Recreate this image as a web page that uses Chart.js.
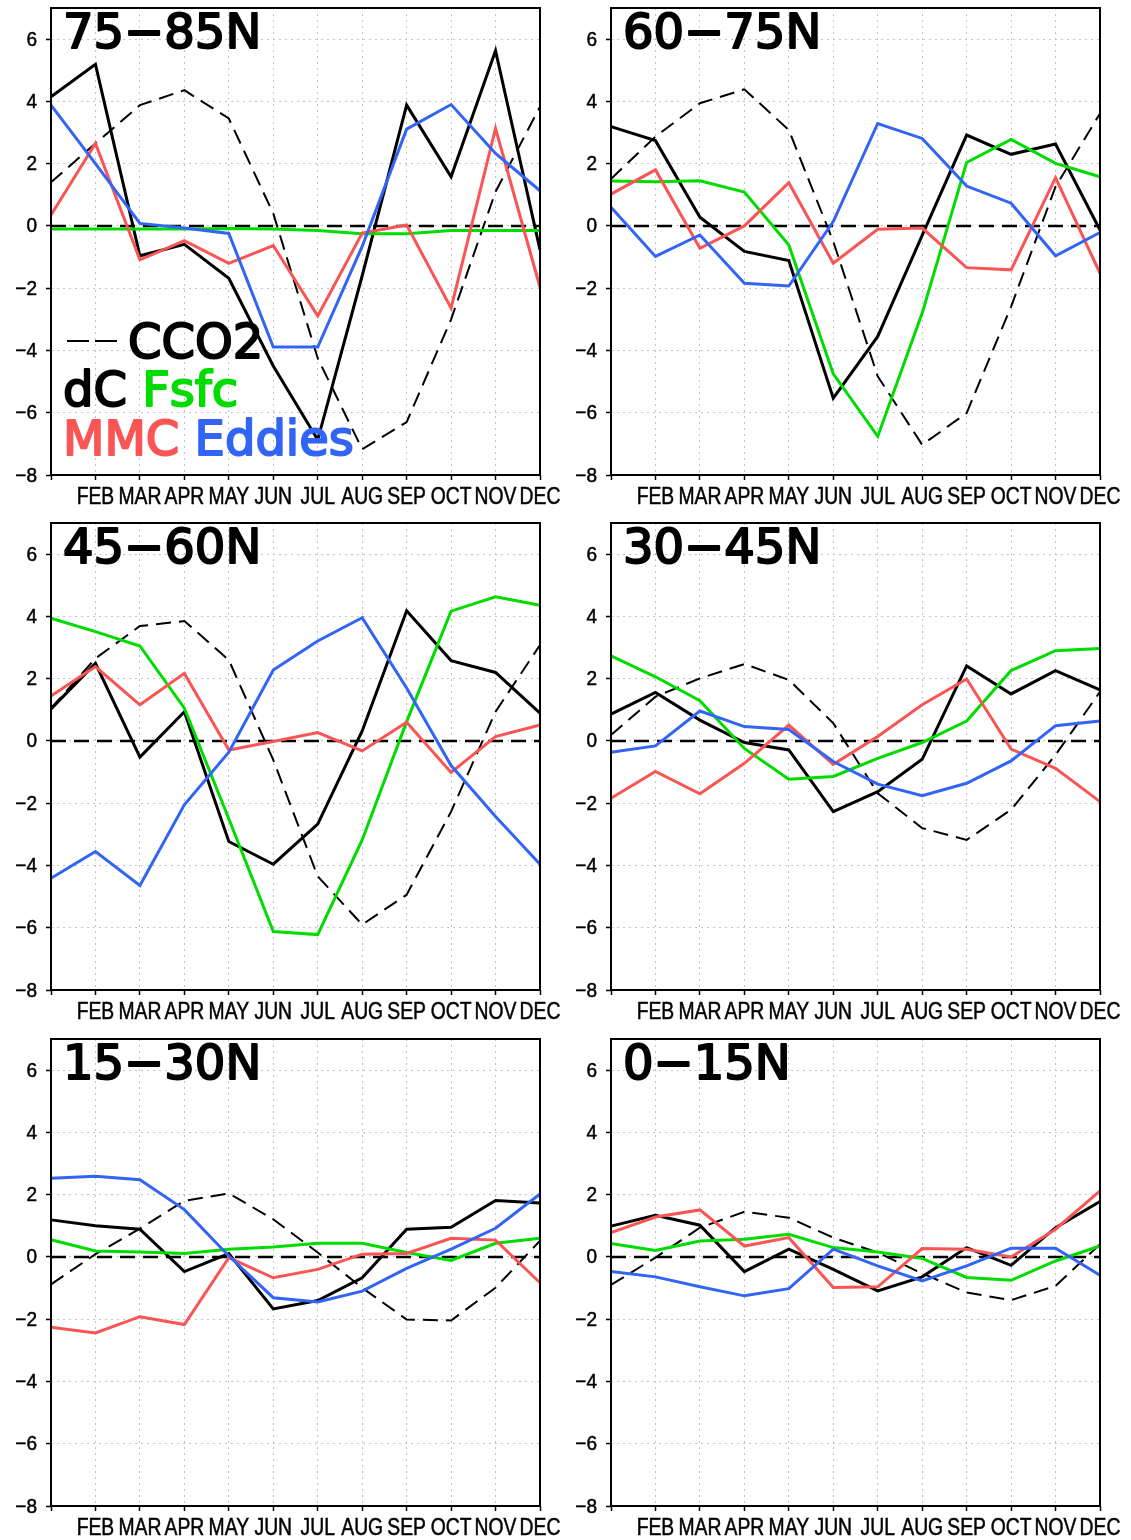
<!DOCTYPE html>
<html lang="en">
<head>
  <meta charset="UTF-8">
  <title>Seasonal CO2 budget by latitude band</title>
  <script src="https://cdn.jsdelivr.net/npm/chart.js"></script>
  <style>
    body { margin: 0; background: #fff; }
    .page { position: relative; width: 1131px; height: 1540px; }
    .page canvas { position: absolute; }
  </style>
</head>
<body>
<div class="page" id="page"></div>

<script>
// months on the x axis (JAN label is not printed)
const months = ['JAN','FEB','MAR','APR','MAY','JUN','JUL','AUG','SEP','OCT','NOV','DEC'];
const yTicks = [-8, -6, -4, -2, 0, 2, 4, 6];

// panel order: left-right, top-bottom
const bands = ['75\u221285N', '60\u221275N', '45\u221260N', '30\u221245N', '15\u221230N', '0\u221215N'];

// CCO2 (dashed black)
const cco2 = [
  [1.40, 2.65, 3.88, 4.36, 3.45, 0.40, -4.25, -7.17, -6.30, -3.00, 1.10, 3.83],
  [1.51, 2.87, 3.94, 4.39, 3.08, -0.50, -4.83, -7.03, -6.01, -2.59, 1.26, 3.61],
  [1.05, 2.65, 3.69, 3.85, 2.60, -0.61, -4.35, -5.90, -4.94, -2.27, 0.94, 3.08],
  [0.19, 1.42, 2.01, 2.47, 1.96, 0.57, -1.68, -2.80, -3.18, -2.21, -0.45, 1.58],
  [-0.88, 0.09, 0.91, 1.80, 2.04, 1.21, 0.14, -0.99, -2.01, -2.04, -0.99, 0.52],
  [-0.90, -0.02, 0.94, 1.45, 1.26, 0.62, 0.14, -0.53, -1.14, -1.39, -0.93, 0.41]
];
// dC (solid black)
const dC = [
  [4.15, 5.19, -0.96, -0.59, -1.68, -4.50, -6.87, -1.60, 3.88, 1.58, 5.63, -0.77],
  [3.19, 2.74, 0.28, -0.82, -1.11, -5.53, -3.55, -0.30, 2.92, 2.30, 2.63, -0.13],
  [1.03, 2.49, -0.52, 0.94, -3.23, -3.96, -2.67, 0.32, 4.18, 2.58, 2.20, 0.89],
  [0.86, 1.56, 0.67, -0.05, -0.29, -2.27, -1.63, -0.59, 2.41, 1.51, 2.26, 1.64],
  [1.19, 1.00, 0.89, -0.47, 0.11, -1.67, -1.40, -0.67, 0.89, 0.95, 1.81, 1.73],
  [0.99, 1.34, 1.02, -0.47, 0.25, -0.40, -1.09, -0.64, 0.30, -0.27, 0.94, 1.78]
];
// Fsfc (green)
const fsfc = [
  [-0.10, -0.10, -0.10, -0.10, -0.08, -0.10, -0.15, -0.25, -0.25, -0.15, -0.15, -0.15],
  [1.44, 1.42, 1.45, 1.09, -0.61, -4.75, -6.76, -2.80, 2.04, 2.78, 2.01, 1.58],
  [3.94, 3.51, 3.05, 1.05, -2.50, -6.12, -6.22, -3.18, 0.62, 4.17, 4.63, 4.36],
  [2.73, 2.06, 1.29, -0.24, -1.23, -1.14, -0.56, -0.05, 0.64, 2.26, 2.90, 2.97],
  [0.55, 0.19, 0.16, 0.11, 0.25, 0.32, 0.44, 0.44, 0.14, -0.11, 0.44, 0.60],
  [0.43, 0.21, 0.51, 0.57, 0.73, 0.30, 0.16, -0.05, -0.66, -0.75, -0.13, 0.35]
];
// MMC (red)
const mmc = [
  [0.35, 2.65, -1.09, -0.47, -1.20, -0.63, -2.89, -0.23, 0.03, -2.64, 3.13, -1.97],
  [1.02, 1.80, -0.72, 0.00, 1.39, -1.20, -0.11, -0.07, -1.34, -1.41, 1.55, -1.52],
  [1.44, 2.39, 1.16, 2.17, -0.29, -0.02, 0.27, -0.32, 0.60, -1.01, 0.14, 0.51],
  [-1.84, -0.98, -1.70, -0.72, 0.51, -0.75, 0.14, 1.16, 1.99, -0.26, -0.88, -1.95],
  [-2.26, -2.44, -1.92, -2.17, -0.02, -0.67, -0.40, 0.09, 0.11, 0.60, 0.54, -0.83],
  [0.78, 1.28, 1.51, 0.35, 0.62, -0.98, -0.96, 0.27, 0.25, 0.00, 0.89, 2.12]
];
// Eddies (blue)
const eddies = [
  [3.88, 2.00, 0.08, -0.07, -0.24, -3.89, -3.89, -0.66, 3.11, 3.90, 2.33, 1.13],
  [0.60, -0.98, -0.29, -1.84, -1.93, 0.14, 3.29, 2.81, 1.28, 0.73, -0.96, -0.21],
  [-4.41, -3.55, -4.64, -2.05, -0.36, 2.28, 3.21, 3.96, 1.70, -0.79, -2.43, -3.96],
  [-0.36, -0.16, 0.96, 0.46, 0.37, -0.66, -1.39, -1.76, -1.36, -0.64, 0.49, 0.64],
  [2.53, 2.59, 2.48, 1.52, 0.03, -1.31, -1.45, -1.10, -0.37, 0.25, 0.92, 2.02],
  [-0.47, -0.64, -0.96, -1.25, -1.02, 0.25, -0.29, -0.77, -0.29, 0.28, 0.28, -0.59]
];

const RED = '#fa5555', GREEN = '#00dc00', BLUE = '#3264f5';
const BIG = '48px "DejaVu Sans", sans-serif';
const AXIS_FONT = '"Liberation Sans", Arial, sans-serif';

function bigText(ctx, txt, x, y, color) {
  ctx.font = BIG;
  ctx.fillStyle = color;
  ctx.strokeStyle = color;
  ctx.lineWidth = 2;
  ctx.lineJoin = 'round';
  ctx.fillText(txt, x, y);
  ctx.strokeText(txt, x, y);
  return x + ctx.measureText(txt).width;
}

// narrow axis label: squeeze the glyphs sideways like the original plot
function narrowText(ctx, txt, x, y, squeeze) {
  ctx.save();
  ctx.translate(x, y);
  ctx.scale(squeeze, 1);
  ctx.fillText(txt, 0, 0);
  ctx.strokeText(txt, 0, 0);
  ctx.restore();
}

// frame, zero line, axis labels, band title and (first panel) legend
const panelDeco = {
  id: 'panelDeco',
  beforeDatasetsDraw(chart) {
    const ctx = chart.ctx, a = chart.chartArea;
    const y0 = chart.scales.y.getPixelForValue(0);
    ctx.save();
    ctx.strokeStyle = '#000';
    ctx.lineWidth = 2.5;
    ctx.setLineDash([15, 8]);
    ctx.beginPath();
    ctx.moveTo(a.left, y0);
    ctx.lineTo(a.right, y0);
    ctx.stroke();
    ctx.restore();
  },
  afterDraw(chart, args, opts) {
    const ctx = chart.ctx, a = chart.chartArea;
    const xs = chart.scales.x, ys = chart.scales.y;
    ctx.save();
    ctx.strokeStyle = '#000';
    ctx.lineWidth = 2;
    ctx.strokeRect(a.left, a.top, a.right - a.left, a.bottom - a.top);

    // axis labels
    ctx.fillStyle = '#000';
    ctx.lineWidth = 0.5;
    ctx.font = '23px ' + AXIS_FONT;
    ctx.textAlign = 'center';
    ctx.textBaseline = 'alphabetic';
    months.forEach((m, k) => {
      if (k === 0) return;
      narrowText(ctx, m, xs.getPixelForTick(k), a.bottom + 29, 0.84);
    });
    ctx.font = '20px ' + AXIS_FONT;
    ctx.textAlign = 'right';
    ctx.textBaseline = 'middle';
    ys.ticks.forEach(t => {
      const lab = String(t.value).replace('-', '\u2212');
      narrowText(ctx, lab, a.left - 14, ys.getPixelForValue(t.value) + 1, 0.95);
    });

    ctx.textBaseline = 'alphabetic';
    ctx.textAlign = 'left';
    bigText(ctx, opts.title, a.left + 12, a.top + 40, '#000');

    if (opts.legend) {
      ctx.strokeStyle = '#000';
      ctx.lineWidth = 2;
      ctx.setLineDash([22, 6]);
      ctx.beginPath();
      ctx.moveTo(a.left + 16, 341);
      ctx.lineTo(a.left + 66, 341);
      ctx.stroke();
      ctx.setLineDash([]);
      bigText(ctx, 'CCO2', a.left + 77, 358, '#000');
      let x = bigText(ctx, 'dC ', a.left + 12, 406, '#000');
      bigText(ctx, 'Fsfc', x, 406, GREEN);
      x = bigText(ctx, 'MMC ', a.left + 12, 455, RED);
      bigText(ctx, 'Eddies', x, 455, BLUE);
    }
    ctx.restore();
  }
};

const page = document.getElementById('page');

bands.forEach((title, i) => {
  const col = i % 2, row = Math.floor(i / 2);
  const cv = document.createElement('canvas');
  cv.width = col === 0 ? 560 : 571;
  cv.height = 515;
  cv.style.left = (col * 560) + 'px';
  cv.style.top = (row * 515 + (row === 2 ? 1 : 0)) + 'px';
  page.appendChild(cv);

  const gridStyle = {
    color: '#c4c4c4',
    lineWidth: 1,
    drawTicks: true,
    tickLength: 5,
    tickColor: '#000',
    tickWidth: 1.5
  };

  new Chart(cv.getContext('2d'), {
    type: 'line',
    data: {
      labels: months,
      datasets: [
        { label: 'Eddies', data: eddies[i], borderColor: BLUE, borderWidth: 3 },
        { label: 'MMC', data: mmc[i], borderColor: RED, borderWidth: 3 },
        { label: 'Fsfc', data: fsfc[i], borderColor: GREEN, borderWidth: 3 },
        { label: 'dC', data: dC[i], borderColor: '#000', borderWidth: 3 },
        { label: 'CCO2', data: cco2[i], borderColor: '#000', borderWidth: 2, borderDash: [15, 8] }
      ]
    },
    options: {
      responsive: false,
      animation: false,
      devicePixelRatio: 1,
      layout: { padding: { top: 8, right: col === 0 ? 20 : 31, left: 0, bottom: 0 } },
      elements: {
        point: { radius: 0 },
        line: { tension: 0, borderJoinStyle: 'miter', fill: false }
      },
      plugins: {
        legend: { display: false },
        tooltip: { enabled: false },
        panelDeco: { title: title, legend: i === 0 }
      },
      scales: {
        x: {
          type: 'category',
          offset: false,
          grid: gridStyle,
          border: { display: false, dash: [2, 4] },
          ticks: { display: false, autoSkip: false },
          afterFit: s => {
            s.height = 40;
            s.paddingLeft = 0;
            s.paddingRight = 0;
          }
        },
        y: {
          min: -8,
          max: 7,
          grid: gridStyle,
          border: { display: false, dash: [2, 4] },
          afterBuildTicks: s => { s.ticks = yTicks.map(v => ({ value: v })); },
          ticks: { display: false },
          afterFit: s => {
            s.width = 51;
            s.paddingTop = 0;
            s.paddingBottom = 0;
          }
        }
      }
    },
    plugins: [panelDeco]
  });
});
</script>
</body>
</html>
